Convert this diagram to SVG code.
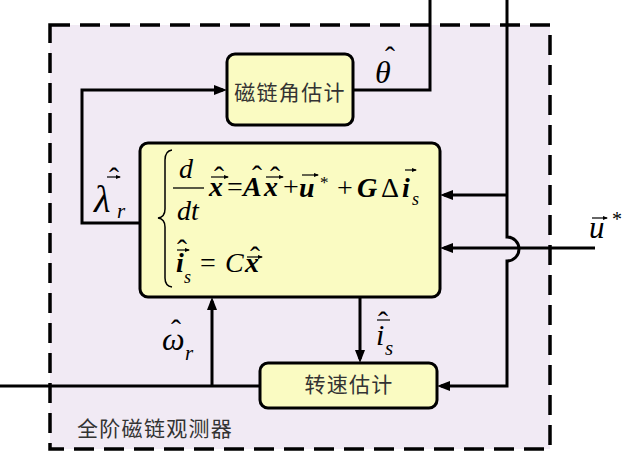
<svg xmlns="http://www.w3.org/2000/svg" width="636" height="465" viewBox="0 0 636 465">
<style>
.box{fill:#FAFBC2;stroke:#000;stroke-width:3}
.ln{fill:none;stroke:#000;stroke-width:3}
.cn{font-family:"Noto Sans CJK SC","Noto Sans",sans-serif;font-size:21px;fill:#333;letter-spacing:1.3px}
.m{font-family:"Liberation Serif","Times New Roman",serif;fill:#000}
.bi{font-weight:bold;font-style:italic}
.it{font-style:italic}
.h{font-size:30px;font-style:normal;font-weight:normal}
.va{fill:none;stroke:#000;stroke-width:1.2}
</style>
<defs>
<marker id="ah" markerWidth="13" markerHeight="10" refX="9" refY="5" orient="auto" markerUnits="userSpaceOnUse"><path d="M0,0 L13,5 L0,10 z" fill="#000"/></marker>
<marker id="vh" markerWidth="5" markerHeight="4" refX="4" refY="2" orient="auto" markerUnits="userSpaceOnUse"><path d="M0,0 L5,2 L0,4 z" fill="#000"/></marker>
</defs>

<g id="observer">
<rect x="50" y="25" width="500" height="424" fill="#F1EAF4" stroke="#000" stroke-width="3.5" stroke-dasharray="20 10"/>
<text class="cn" x="77" y="436">全阶磁链观测器</text>
</g>

<g id="connectors">
<path class="ln" d="M140,223 H82 V90 H223" marker-end="url(#ah)"/>
<path class="ln" d="M353,90 H430 V0"/>
<path class="ln" d="M507,0 V237 A12,12 0 0 1 507,261 V386 H441" marker-end="url(#ah)"/>
<path class="ln" d="M507,195 H444" marker-end="url(#ah)"/>
<path class="ln" d="M595,248 H444" marker-end="url(#ah)"/>
<path class="ln" d="M0,386 H260"/>
<path class="ln" d="M212,386 V301" marker-end="url(#ah)"/>
<path class="ln" d="M360,297 V359" marker-end="url(#ah)"/>
</g>

<g id="flux-angle-estimator">
<rect class="box" x="227" y="54" width="126" height="71" rx="8"/>
<text class="cn" x="290" y="100" text-anchor="middle">磁链角估计</text>
</g>

<g id="speed-estimator">
<rect class="box" x="260" y="363" width="177" height="45" rx="8"/>
<text class="cn" x="349" y="392" text-anchor="middle">转速估计</text>
</g>

<g id="observer-model">
<rect class="box" x="140" y="143" width="300" height="154" rx="8"/>
<path d="M172,150 Q165,151 165,160 V209 Q165,217 158,218 Q165,219 165,227 V278 Q165,286 172,287" fill="none" stroke="#000" stroke-width="1.5"/>
<g class="m" font-size="28">
<text class="it" x="179" y="178">d</text>
<line x1="173" y1="188" x2="204" y2="188" stroke="#000" stroke-width="1.3"/>
<text class="it" x="177" y="220">dt</text>
<text class="bi" x="209" y="196">x<tspan class="h" x="214" y="187">ˆ</tspan></text>
<text x="227" y="196">=</text>
<text class="bi" x="243" y="196">A<tspan class="h" x="252" y="186">ˆ</tspan></text>
<text class="bi" x="264" y="196">x<tspan class="h" x="270" y="187">ˆ</tspan></text>
<text x="283" y="196">+</text>
<text class="bi" x="299" y="197">u<tspan x="320" y="188" font-size="17" font-style="normal" font-weight="normal">*</tspan></text>
<text x="337" y="197">+</text>
<text class="bi" x="357" y="197">G</text>
<text x="381" y="197">Δ</text>
<text class="bi" x="402" y="197">i<tspan class="it" x="412" y="205" font-size="18" font-weight="normal">s</tspan></text>
<text class="bi" x="176" y="272">i<tspan class="h" x="177" y="260">ˆ</tspan><tspan x="184" y="283" font-size="18" font-weight="normal">s</tspan></text>
<text x="200" y="272">=</text>
<text class="it" x="225" y="272">C</text>
<text class="bi" x="245" y="272">x<tspan class="h" x="250" y="267">ˆ</tspan></text>
</g>
<path class="va" d="M211,177 H228" marker-end="url(#vh)"/>
<path class="va" d="M266,177 H283" marker-end="url(#vh)"/>
<path class="va" d="M302,175 H318" marker-end="url(#vh)"/>
<path class="va" d="M405,170 H416" marker-end="url(#vh)"/>
<path class="va" d="M177,250 H189" marker-end="url(#vh)"/>
<path class="va" d="M247,257 H262" marker-end="url(#vh)"/>
</g>

<g id="labels" class="m">
<text class="it" x="94" y="212" font-size="38">λ<tspan x="117" y="218" font-size="21">r</tspan><tspan class="h" x="109" y="188">ˆ</tspan></text>
<path class="va" d="M107,177 H120" marker-end="url(#vh)"/>
<text class="it" x="375" y="83" font-size="32">θ<tspan class="h" x="385" y="67">ˆ</tspan></text>
<text class="it" x="162" y="350" font-size="32">ω<tspan x="185" y="360" font-size="21">r</tspan><tspan class="h" x="171" y="340">ˆ</tspan></text>
<text class="it" x="376" y="345" font-size="30">i<tspan x="385" y="355" font-size="21">s</tspan><tspan class="h" x="378" y="332">ˆ</tspan></text>
<line x1="377" y1="320" x2="390" y2="320" stroke="#000" stroke-width="1.2"/>
<text class="it" x="589" y="238" font-size="31">u<tspan x="612" y="226" font-size="20" font-style="normal">*</tspan></text>
<path class="va" d="M592,218 H607" marker-end="url(#vh)"/>
</g>
</svg>
